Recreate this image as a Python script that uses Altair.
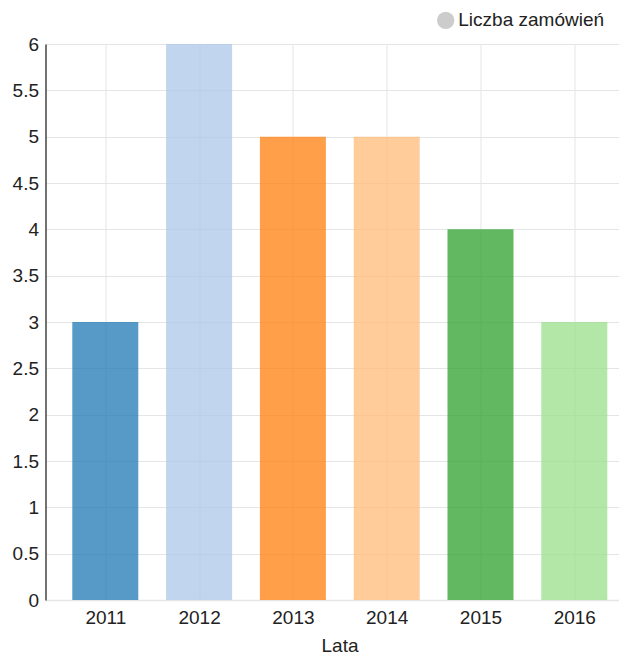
import altair as alt
import pandas as pd

# --- data ---
years = [2011, 2012, 2013, 2014, 2015, 2016]
orders = [3, 6, 5, 5, 4, 3]
bar_colors = ["#1f77b4", "#aec7e8", "#ff7f0e", "#ffbb78", "#2ca02c", "#98df8a"]
y_ticks = [0, 0.5, 1, 1.5, 2, 2.5, 3, 3.5, 4, 4.5, 5, 5.5, 6]
legend_label = "Liczba zamówień"
x_title = "Lata"

df = pd.DataFrame({"Lata": years, "Liczba": orders})
legend_df = pd.DataFrame({"t": [legend_label]})

FONT = "Liberation Sans"
TXT = "#222222"
GRID = "#e5e5e5"

bars = alt.Chart(df).mark_bar(opacity=0.75, size=66).encode(
    x=alt.X(
        "Lata:Q",
        scale=alt.Scale(domain=[2010.3625, 2016.4766], nice=False, zero=False, padding=0),
        axis=alt.Axis(
            values=years, format="d", title=x_title, grid=True, gridColor=GRID,
            ticks=False, domainColor=GRID, domainWidth=1.5,
            labelFont=FONT, labelFontSize=19, labelColor=TXT, labelPadding=8,
            titleFont=FONT, titleFontSize=19, titleColor=TXT, titleFontWeight="normal",
            titleAlign="center", titleBaseline="alphabetic", titleX=294, titleY=51,
        ),
    ),
    y=alt.Y(
        "Liczba:Q",
        scale=alt.Scale(domain=[0, 6], nice=False),
        axis=alt.Axis(
            values=y_ticks, format="~g", title=None, grid=True, gridColor=GRID,
            ticks=False, domainColor="#444444", domainWidth=1.5,
            labelFont=FONT, labelFontSize=19, labelColor=TXT, labelPadding=7,
        ),
    ),
    color=alt.Color("Lata:N", scale=alt.Scale(domain=years, range=bar_colors), legend=None),
)

legend_dot = alt.Chart(legend_df).mark_point(
    filled=True, size=300, color="#cccccc", opacity=1
).encode(x=alt.value(400.2), y=alt.value(-23.7))

legend_text = alt.Chart(legend_df).mark_text(
    align="left", baseline="middle", font=FONT, fontSize=19, color=TXT
).encode(text="t:N", x=alt.value(412.8), y=alt.value(-24))

chart = alt.layer(bars, legend_dot, legend_text).properties(
    width=573.5,
    height=556,
    autosize=alt.AutoSizeParams(type="none"),
    padding={"left": 37.5, "top": 36, "right": 0, "bottom": 55},
).configure_view(stroke=None)

chart.save("out.html", embed_options={"renderer": "svg", "actions": False})
